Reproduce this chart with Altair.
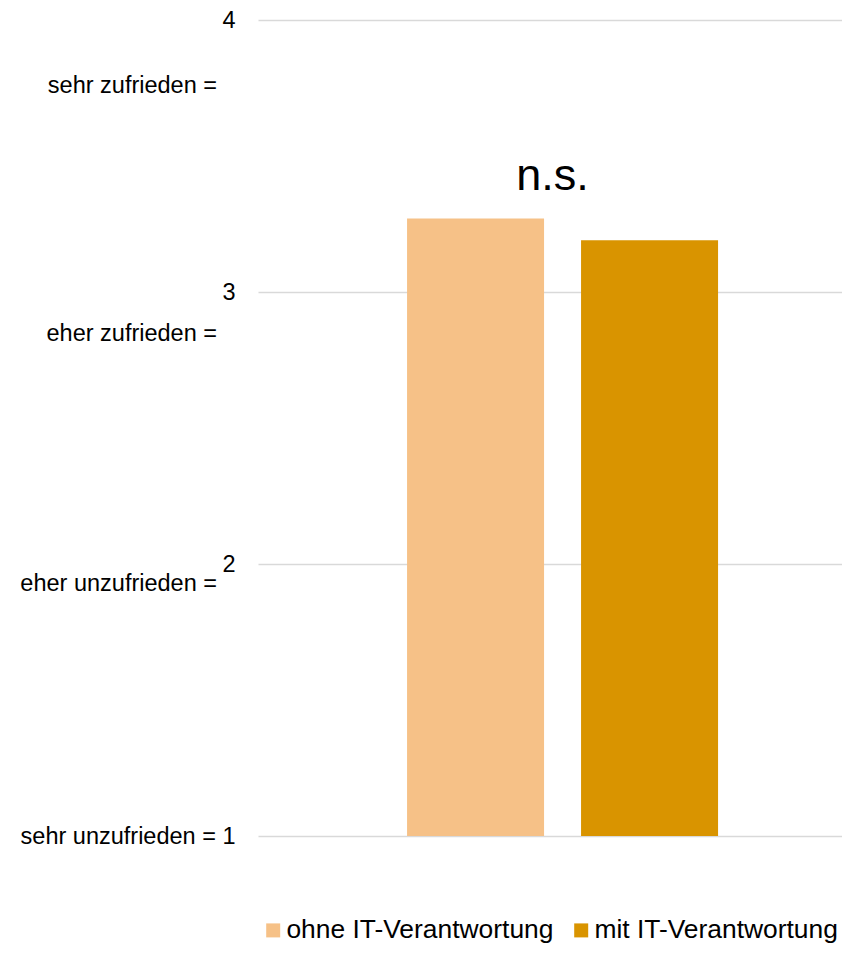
import altair as alt
import pandas as pd

# ---- data ----
category = ["Zufriedenheit"]
groups = ["ohne IT-Verantwortung", "mit IT-Verantwortung"]
values = [3.27, 3.19]
colors = ["#F6C187", "#D99400"]
tick_values = [1, 2, 3, 4]
tick_labels = ["sehr unzufrieden = 1", "2", "3", "4"]
scale_labels = ["sehr zufrieden =", "eher zufrieden =", "eher unzufrieden ="]
scale_label_pos = [3.758, 2.845, 1.928]
note_text = ["n.s."]
note_pos = [3.375]

FONT = "Liberation Sans"
FS = 23.5

bars_df = pd.DataFrame({"cat": category * len(groups), "gruppe": groups, "wert": values})
lab_df = pd.DataFrame({"txt": scale_labels, "pos": scale_label_pos})
note_df = pd.DataFrame({"cat": category, "txt": note_text, "pos": note_pos})

label_expr = " : ".join(
    f"datum.value == {v} ? '{l}'" for v, l in zip(tick_values, tick_labels)
) + " : datum.label"

yscale = alt.Scale(domain=[1, 4], zero=False, nice=False)
xscale = alt.Scale(paddingInner=0, paddingOuter=0.4389, align=0.546)

bars = alt.Chart(bars_df).mark_bar().encode(
    x=alt.X("cat:N", scale=xscale, axis=None),
    xOffset=alt.XOffset("gruppe:N", sort=groups,
                        scale=alt.Scale(paddingInner=0.2126, paddingOuter=0)),
    y=alt.Y("wert:Q", scale=yscale,
            axis=alt.Axis(values=tick_values, title=None, ticks=False, domain=False,
                          grid=True, gridColor="#d9d9d9", gridWidth=1.5,
                          labelFontSize=FS, labelPadding=23, labelFont=FONT,
                          labelLimit=0,
                          labelColor="#000000", labelExpr=label_expr)),
    y2=alt.datum(1),
    color=alt.Color("gruppe:N", sort=groups,
                    scale=alt.Scale(domain=groups, range=colors),
                    legend=alt.Legend(orient="none", legendX=2, legendY=897,
                                      direction="horizontal", title=None,
                                      symbolType="square", symbolSize=196,
                                      symbolStrokeWidth=0, labelFontSize=26.4,
                                      labelFont=FONT, labelColor="#000000",
                                      labelLimit=0,
                                      labelOffset=0, columnPadding=14, padding=0)),
)

side_labels = alt.Chart(lab_df).mark_text(
    align="right", baseline="middle", fontSize=FS, font=FONT, color="#000000"
).encode(
    x=alt.value(-41),
    y=alt.Y("pos:Q", scale=yscale),
    text="txt:N",
)

note = alt.Chart(note_df).mark_text(
    align="center", baseline="alphabetic", fontSize=45, font=FONT, color="#000000", dx=-10
).encode(
    x=alt.X("cat:N", scale=xscale, axis=None),
    y=alt.Y("pos:Q", scale=yscale),
    text="txt:N",
)

chart = alt.layer(bars, side_labels, note).properties(
    width=584, height=816,
    autosize="none",
    padding={"left": 250, "top": 12, "right": 0, "bottom": 110},
).configure_view(stroke=None)

chart.save("out.html", embed_options={"renderer": "svg", "actions": False})
